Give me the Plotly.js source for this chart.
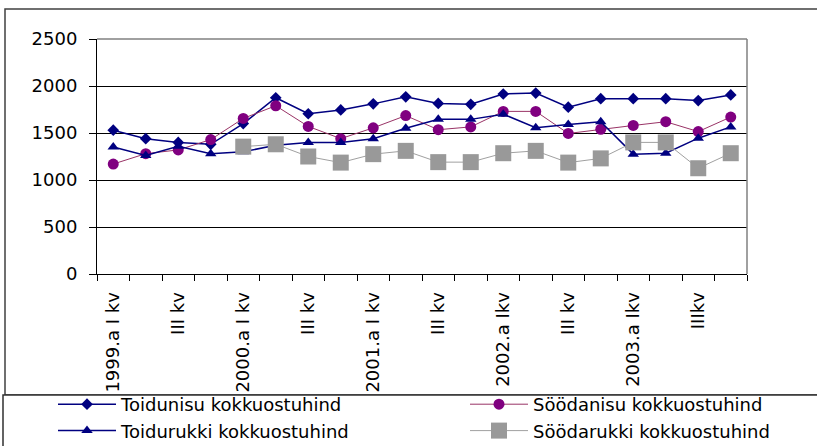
<!DOCTYPE html>
<html>
<head>
<meta charset="utf-8">
<script src="https://cdn.plot.ly/plotly-3.0.1.min.js"></script>
<style>
  html, body { margin: 0; padding: 0; background: #fff; }
  #chart { width: 817px; height: 446px; }
</style>
</head>
<body>
<div id="chart"></div>
<script>
// Quarters 1999 I .. 2003 IV
const quarters = [
  '1999 I','1999 II','1999 III','1999 IV',
  '2000 I','2000 II','2000 III','2000 IV',
  '2001 I','2001 II','2001 III','2001 IV',
  '2002 I','2002 II','2002 III','2002 IV',
  '2003 I','2003 II','2003 III','2003 IV'
];
const tickLabels = [
  '1999.a I kv','','III kv','',
  '2000.a I kv','','III kv','',
  '2001.a I kv','','III kv','',
  '2002.a Ikv','','III kv','',
  '2003.a Ikv','','IIIkv',''
];
const seriesNames = [
  'Toidunisu kokkuostuhind',
  'Söödanisu kokkuostuhind',
  'Toidurukki kokkuostuhind',
  'Söödarukki kokkuostuhind'
];
const toidunisu  = [1530,1440,1400,1380,1600,1875,1705,1745,1810,1885,1815,1805,1915,1925,1775,1865,1865,1865,1845,1905];
const soodanisu  = [1170,1280,1320,1430,1655,1790,1570,1440,1555,1685,1535,1565,1730,1730,1495,1540,1580,1620,1515,1670];
const toidurukki = [1350,1260,1360,1280,1300,1370,1400,1400,1440,1550,1645,1645,1700,1557,1590,1620,1275,1285,1445,1565];
const soodarukki = [null,null,null,null,1355,1380,1250,1185,1275,1310,1190,1190,1285,1310,1185,1230,1400,1400,1125,1285];

const xIdx = quarters.map((q, i) => i);
const FONT = 'DejaVu Sans, Arial, sans-serif';
const FS = 18;

// plot area in pixels
const L = 97, R = 747, T = 39, B = 274;
const px = v => (v - L) / (R - L);
const py = v => (B - v) / (B - T);

const traces = [
  {name: seriesNames[0], y: toidunisu, mode: 'lines+markers', legend: 'legend',
   line: {color: '#000080', width: 1.5},
   marker: {symbol: 'diamond', size: 9, color: '#000080'}},
  {name: seriesNames[1], y: soodanisu, mode: 'lines+markers', legend: 'legend2',
   line: {color: '#993366', width: 1},
   marker: {symbol: 'circle', size: 11, color: '#800080'}},
  {name: seriesNames[2], y: toidurukki, mode: 'lines+markers', legend: 'legend',
   line: {color: '#000080', width: 1.5},
   marker: {symbol: 'triangle-up', size: 10, color: '#000080'}},
  {name: seriesNames[3], y: soodarukki, mode: 'lines+markers', legend: 'legend2',
   line: {color: '#a0a0a0', width: 1},
   marker: {symbol: 'square', size: 16, color: '#999999'}}
].map(t => Object.assign({x: xIdx, type: 'scatter', cliponaxis: false}, t));

const legendBase = {
  orientation: 'v', xanchor: 'left', y: py(386), yanchor: 'top',
  itemwidth: 58, bgcolor: 'rgba(0,0,0,0)', borderwidth: 0,
  font: {family: FONT, size: FS, color: '#000'}, tracegroupgap: 0
};

const layout = {
  width: 817, height: 446,
  margin: {l: L, r: 817 - R, t: T, b: 446 - B, pad: 0, autoexpand: false},
  paper_bgcolor: '#ffffff', plot_bgcolor: '#ffffff',
  font: {family: FONT, size: FS, color: '#000'},
  showlegend: true,
  legend: Object.assign({}, legendBase, {x: px(53)}),
  legend2: Object.assign({}, legendBase, {x: px(465)}),
  xaxis: {
    range: [-0.5, quarters.length - 0.5],
    tickmode: 'array', tickvals: xIdx, ticktext: tickLabels,
    tickangle: -90, ticks: '', ticklabelstandoff: 10,
    showline: true, linecolor: '#000', linewidth: 1,
    showgrid: false, zeroline: false,
    tickfont: {family: FONT, size: FS, color: '#000'},
    minor: {tick0: -0.5, dtick: 1, ticks: 'outside', ticklen: 6, tickcolor: '#000', tickwidth: 1, showgrid: false}
  },
  yaxis: {
    range: [0, 2500], tickmode: 'linear', tick0: 0, dtick: 500,
    ticks: 'outside', ticklen: 7, tickcolor: '#000', ticklabelstandoff: 8,
    showline: true, linecolor: '#000', linewidth: 1,
    showgrid: true, gridcolor: '#000', gridwidth: 1, zeroline: false,
    tickfont: {family: FONT, size: FS, color: '#000'}
  },
  shapes: [
    // outer chart border
    {type: 'rect', xref: 'paper', yref: 'paper', x0: px(5), x1: px(830), y0: py(395), y1: py(9),
     line: {color: '#404040', width: 1.5}, fillcolor: 'rgba(0,0,0,0)', layer: 'below'},
    // legend box (covers the ends of the long tick labels)
    {type: 'rect', xref: 'paper', yref: 'paper', x0: px(3), x1: px(830), y0: py(470), y1: py(395),
     line: {color: '#303030', width: 1.5}, fillcolor: '#ffffff', layer: 'above'},
    // plot area border (top/right, grey)
    {type: 'line', xref: 'paper', yref: 'paper', x0: 0, x1: 1, y0: 1, y1: 1,
     line: {color: '#808080', width: 1.5}, layer: 'above'},
    {type: 'line', xref: 'paper', yref: 'paper', x0: 1, x1: 1, y0: 0, y1: 1,
     line: {color: '#808080', width: 1.5}, layer: 'above'}
  ]
};

Plotly.newPlot('chart', traces, layout, {staticPlot: true, displayModeBar: false});
</script>
</body>
</html>
